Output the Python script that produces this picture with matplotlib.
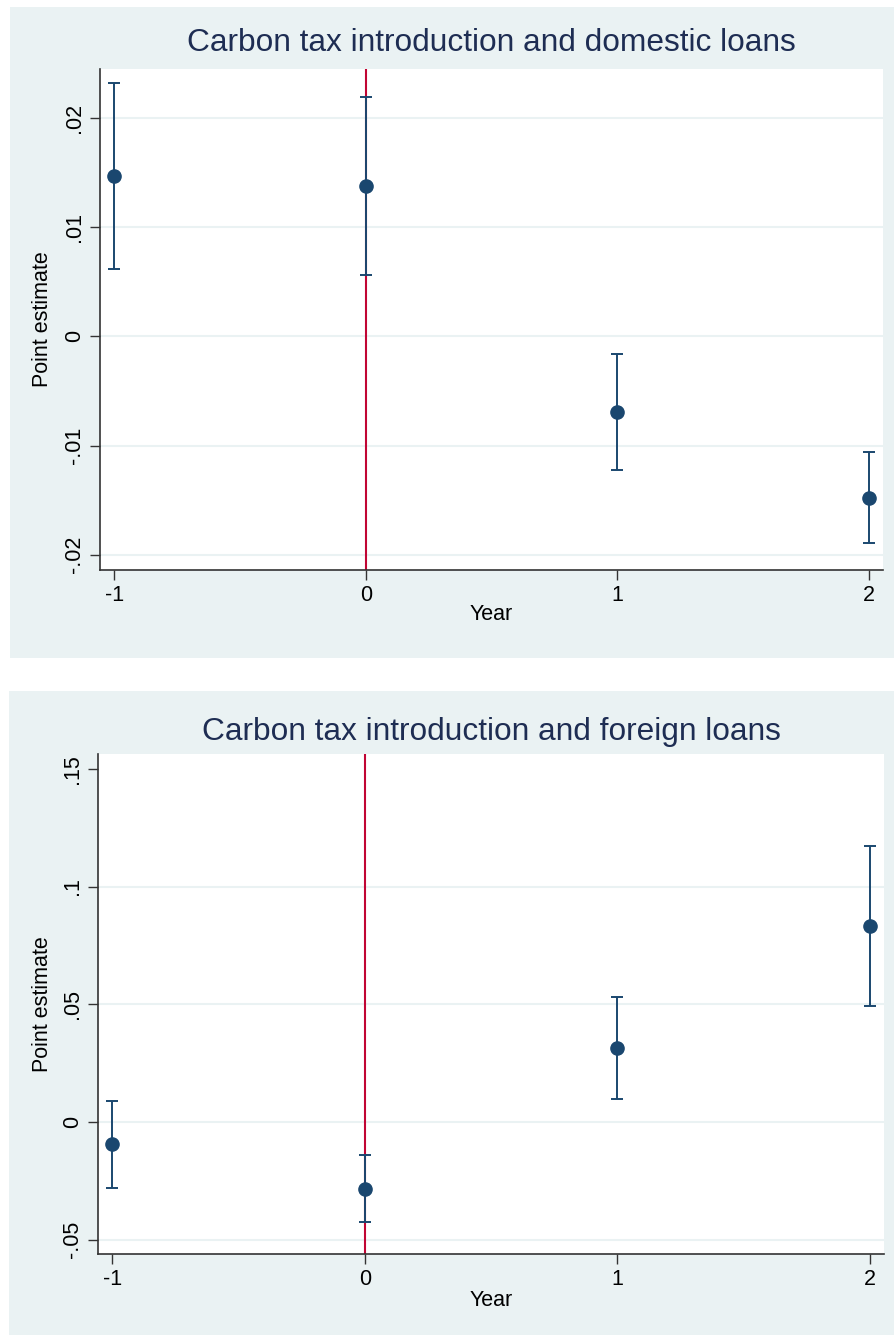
import matplotlib
matplotlib.use("Agg")
import matplotlib.pyplot as plt
from matplotlib.patches import Rectangle

plt.rcParams['font.family'] = ['Liberation Sans', 'DejaVu Sans']

# data
years = [-1, 0, 1, 2]

dom_est = [0.0147, 0.0138, -0.0069, -0.0148]
dom_lo = [0.0062, 0.0056, -0.0122, -0.0189]
dom_hi = [0.0232, 0.0219, -0.0016, -0.0106]
dom_ticks = [-0.02, -0.01, 0, 0.01, 0.02]
dom_labels = ["-.02", "-.01", "0", ".01", ".02"]

for_est = [-0.0093, -0.0285, 0.0314, 0.0832]
for_lo = [-0.0280, -0.0425, 0.0098, 0.0493]
for_hi = [0.0089, -0.0140, 0.0531, 0.1172]
for_ticks = [-0.05, 0, 0.05, 0.1, 0.15]
for_labels = ["-.05", "0", ".05", ".1", ".15"]

W, H = 894, 1337
BG = "#EAF2F3"
NAVY = "#1A476F"
RED = "#C10534"
TITLE = "#1E2D53"
FS = 15.5

fig = plt.figure(figsize=(W / 100, H / 100), dpi=100)


def box(l, t, r, b):
    # pixel box -> figure fraction [left, bottom, width, height]
    return [l / W, 1 - b / H, (r - l) / W, (b - t) / H]


def panel(bg, ax_box, title, title_y, year_y, est, lo, hi, ticks, labels,
          ylim, grid_ticks):
    x0, y0, w, h = box(*bg)
    fig.patches.append(Rectangle((x0, y0), w, h, transform=fig.transFigure,
                                 facecolor=BG, edgecolor="none", zorder=-10))
    ax = fig.add_axes(box(*ax_box))
    ax.set_zorder(5)
    ax.set_facecolor("white")
    for g in grid_ticks:
        ax.axhline(g, color=BG, lw=1.5, zorder=1)
    ax.axvline(0, color=RED, lw=1.5, zorder=2)
    yerr = [[e - l for e, l in zip(est, lo)], [h_ - e for e, h_ in zip(est, hi)]]
    ax.errorbar(years, est, yerr=yerr, fmt="o", color=NAVY, ms=9.5,
                elinewidth=1.4, capsize=4.5, capthick=1.4, zorder=3)
    ax.set_xlim(-1.056, 2.056)
    ax.set_ylim(*ylim)
    ax.set_xticks(years)
    ax.set_xticklabels([str(y) for y in years], fontsize=FS)
    ax.set_yticks(ticks)
    ax.set_yticklabels(labels, fontsize=FS, rotation=90, va="center")
    ax.tick_params(direction="out", length=7, width=1, color="#333333", pad=4)
    for s in ["top", "right"]:
        ax.spines[s].set_visible(False)
    for s in ["left", "bottom"]:
        ax.spines[s].set_color("#333333")
        ax.spines[s].set_linewidth(1.2)
    cx = (ax_box[0] + ax_box[2]) / 2
    fig.text(cx / W, 1 - title_y / H, title, fontsize=22.8, color=TITLE,
             ha="center", va="center")
    fig.text(cx / W, 1 - year_y / H, "Year", fontsize=FS, ha="center",
             va="center")
    ymid = (ax_box[1] + ax_box[3]) / 2
    fig.text(42 / W, 1 - ymid / H, "Point estimate", fontsize=FS,
             rotation=90, ha="center", va="center")
    return ax


panel((10, 7, 894, 658), (100, 69, 883, 570),
      "Carbon tax introduction and domestic loans", 43, 614,
      dom_est, dom_lo, dom_hi, dom_ticks, dom_labels,
      (-0.0214, 0.0245), dom_ticks)

panel((9, 691, 894, 1335), (98, 754, 884, 1254),
      "Carbon tax introduction and foreign loans", 732, 1300,
      for_est, for_lo, for_hi, for_ticks, for_labels,
      (-0.0561, 0.1563), for_ticks[:-1])

fig.savefig("out.png", dpi=100, facecolor="white")
